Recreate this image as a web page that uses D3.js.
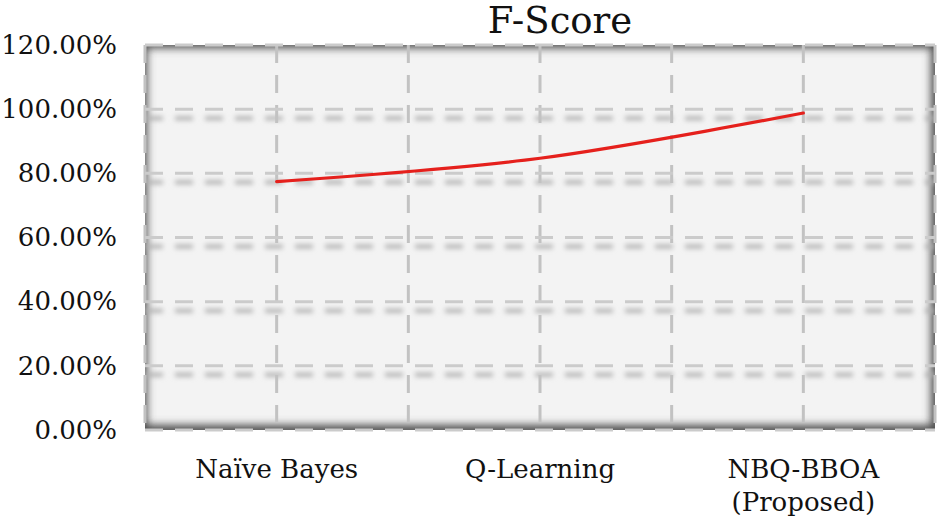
<!DOCTYPE html>
<html>
<head>
<meta charset="utf-8">
<script src="https://cdn.jsdelivr.net/npm/d3@7"></script>
<style>
  body { margin: 0; background: #fff; }
  text { font-family: "DejaVu Serif", serif; fill: #111; }
</style>
</head>
<body>
<div id="chart"></div>
<script>
// chart data
var categories = ["Naïve Bayes", "Q-Learning", "NBQ-BBOA\n(Proposed)"];
var fscore = [0.774, 0.847, 0.988];
var yTicks = [0, 0.2, 0.4, 0.6, 0.8, 1.0, 1.2];
var title = "F-Score";

var width = 950;
var height = 522;
var plot = {left: 145, right: 935, top: 45, bottom: 430};

var svg = d3.select("#chart").append("svg")
  .attr("width", width)
  .attr("height", height);

var defs = svg.append("defs");

// blurred shadow under the gridlines
defs.append("filter")
  .attr("id", "gridShadow")
  .attr("x", "-10%").attr("y", "-50%")
  .attr("width", "120%").attr("height", "200%")
  .append("feGaussianBlur")
  .attr("stdDeviation", 2.4);

defs.append("filter")
  .attr("id", "edgeBlur")
  .attr("x", "-10%").attr("y", "-10%")
  .attr("width", "120%").attr("height", "120%")
  .append("feGaussianBlur")
  .attr("stdDeviation", 4.5);

defs.append("clipPath")
  .attr("id", "plotClip")
  .append("rect")
  .attr("x", plot.left).attr("y", plot.top)
  .attr("width", plot.right - plot.left)
  .attr("height", plot.bottom - plot.top);

/* Scales */
var xScale = d3.scalePoint()
  .domain(categories)
  .range([plot.left, plot.right])
  .padding(0.5);

var yScale = d3.scaleLinear()
  .domain([0, 1.2])
  .range([plot.bottom, plot.top]);

var step = xScale.step();
// vertical grid positions: category boundaries and centres
var vLines = [];
categories.forEach(function(c, i) {
  if (i == 0) vLines.push(xScale(c) - step / 2);
  vLines.push(xScale(c));
  vLines.push(xScale(c) + step / 2);
});

/* Plot background with inner shadow */
svg.append("rect")
  .attr("x", plot.left).attr("y", plot.top)
  .attr("width", plot.right - plot.left)
  .attr("height", plot.bottom - plot.top)
  .attr("fill", "#f3f3f3");

var inner = svg.append("g").attr("clip-path", "url(#plotClip)");
inner.append("rect")
  .attr("x", plot.left - 4).attr("y", plot.top - 3)
  .attr("width", plot.right - plot.left + 6)
  .attr("height", plot.bottom - plot.top + 4)
  .attr("fill", "none")
  .attr("stroke", "#4a4a4a")
  .attr("stroke-width", 12)
  .attr("filter", "url(#edgeBlur)");

/* Gridlines: shadow copy first, then the light dashed lines */
var grid = svg.append("g").attr("class", "grid");

var shadow = grid.append("g")
  .attr("clip-path", "url(#plotClip)")
  .attr("filter", "url(#gridShadow)")
  .attr("transform", "translate(0, 9)");

shadow.selectAll("line.h")
  .data(yTicks.slice(1, -1)).enter()
  .append("line")
  .attr("x1", plot.left).attr("x2", plot.right)
  .attr("y1", d => yScale(d)).attr("y2", d => yScale(d))
  .attr("stroke", "#b0b0b0")
  .attr("stroke-width", 4)
  .attr("stroke-dasharray", "18,12");

grid.selectAll("line.v")
  .data(vLines).enter()
  .append("line")
  .attr("class", "v")
  .attr("x1", d => d).attr("x2", d => d)
  .attr("y1", plot.top).attr("y2", plot.bottom)
  .attr("stroke", "#c2c2c2")
  .attr("stroke-width", 3)
  .attr("stroke-dasharray", "18,12");

grid.selectAll("line.h")
  .data(yTicks).enter()
  .append("line")
  .attr("class", "h")
  .attr("x1", plot.left).attr("x2", plot.right)
  .attr("y1", d => yScale(d)).attr("y2", d => yScale(d))
  .attr("stroke", "#cbcbcb")
  .attr("stroke-width", 3)
  .attr("stroke-dasharray", "18,12");

/* Line */
var line = d3.line()
  .x((d, i) => xScale(categories[i]))
  .y(d => yScale(d))
  .curve(d3.curveCatmullRom.alpha(0.5));

svg.append("path")
  .attr("d", line(fscore))
  .attr("fill", "none")
  .attr("stroke", "#e5201c")
  .attr("stroke-width", 3.2)
  .attr("stroke-linecap", "round");

/* Y axis labels */
var yAxis = d3.axisLeft(yScale)
  .tickValues(yTicks)
  .tickSize(0)
  .tickPadding(0)
  .tickFormat(d3.format(".2%"));

var yg = svg.append("g")
  .attr("transform", "translate(117, 0)")
  .call(yAxis);
yg.select(".domain").remove();
yg.selectAll("text")
  .attr("font-family", "DejaVu Serif")
  .attr("font-size", 26)
  .attr("fill", "#111");

/* X axis labels */
var xg = svg.append("g");
xg.selectAll("text")
  .data(categories).enter()
  .append("text")
  .attr("x", d => xScale(d))
  .attr("y", 478)
  .attr("text-anchor", "middle")
  .attr("font-size", 26)
  .each(function(d) {
    var parts = d.split("\n");
    var t = d3.select(this);
    parts.forEach(function(p, i) {
      t.append("tspan")
        .attr("x", xScale(d))
        .attr("dy", i == 0 ? 0 : 33)
        .text(p);
    });
  });

/* Title */
svg.append("text")
  .attr("x", 560)
  .attr("y", 33)
  .attr("text-anchor", "middle")
  .attr("font-size", 37)
  .text(title);
</script>
</body>
</html>
